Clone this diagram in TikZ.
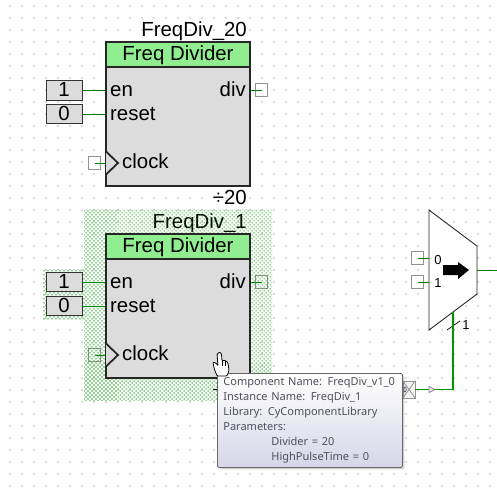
\documentclass[tikz,border=0pt]{standalone}
\usepackage{fontspec}
\setmainfont{Liberation Sans}
\newfontfamily\tipfont{Noto Sans}
\usepackage{xcolor}
\usetikzlibrary{arrows.meta,positioning,patterns.meta,shadows}
\definecolor{wiregreen}{RGB}{0,128,0}
\definecolor{headgreen}{RGB}{144,238,144}
\definecolor{bodygray}{RGB}{220,220,220}
\definecolor{tiptext}{RGB}{80,80,92}

\begin{document}
\begin{tikzpicture}[x=1pt,y=-1pt,
  block/.style={draw=black!85, line width=1.8pt, fill=bodygray, minimum width=144pt, minimum height=144pt, inner sep=0pt},
  header/.style={draw=black!85, line width=1.8pt, fill=headgreen, minimum width=144pt, minimum height=24.5pt, inner sep=0pt, text height=15pt, text depth=3pt, font=\fontsize{20.4}{24}\selectfont},
  const/.style={draw=black!80, line width=0.9pt, fill=bodygray, minimum width=36pt, minimum height=19.5pt, inner sep=0pt, text height=15pt, text depth=3pt, font=\fontsize{20.4}{24}\selectfont},
  pinbox/.style={draw=gray!85, line width=0.8pt, fill=white, minimum size=12.5pt, inner sep=0pt},
  port/.style={inner sep=0pt, text height=15pt, text depth=3pt, font=\fontsize{20.4}{24}\selectfont},
  title/.style={port, anchor=east},
  small/.style={inner sep=0pt, font=\fontsize{13}{15}\selectfont},
  wire/.style={draw=wiregreen, line width=0.9pt},
  selected/.style={pattern={Dots[angle=45,distance=2.83pt,radius=0.8pt]}, pattern color=green!60!black},
  tooltip/.style={draw=gray!80!black, line width=0.8pt, rounded corners=1.5pt, top color=white, bottom color=blue!30!gray!25,
    drop shadow={shadow xshift=2pt, shadow yshift=-2pt, opacity=0.35},
    minimum height=94pt, inner xsep=6pt, inner ysep=0pt, align=left, text=tiptext,
    font=\tipfont\fontsize{11}{15}\selectfont}
]
  \useasboundingbox (0,0) rectangle (497,491);

  % grid
  \foreach \i in {0,...,41} {
    \foreach \j in {0,...,40} {
      \fill[black!14] (-2+12*\i-0.8,6+12*\j+0.8) rectangle +(1.6,-1.6);
    }
  }

  % selected part, under the marking
  \node[title] (name1) at (247,222) {FreqDiv\_1};
  \node[pinbox] (clkpin1) at (94.5,355) {};
  \node[pinbox] (divpin1) at (261.5,282) {};
  \fill[selected] (84,209) rectangle (272,400);
  \fill[selected] (43,269) rectangle (84,319);

  % FreqDiv_20
  \node[title] (name20) at (247,30.5) {FreqDiv\_20};
  \node[block] (block20) at (178,114) {};
  \node[header] (head20) at (178,54.5) {Freq Divider};
  \node[const] (en20) at (64,90.5) {1};
  \node[const] (rst20) at (64,114) {0};
  \node[pinbox] (clkpin20) at (94.5,163) {};
  \node[pinbox] (divpin20) at (261.5,90) {};
  \node[port, anchor=west] (enlbl20) at (110,90) {en};
  \node[port, anchor=west] (rstlbl20) at (110,114) {reset};
  \node[port, anchor=west] (clklbl20) at (122,162) {clock};
  \node[port, anchor=east] (divlbl20) at (246,90) {div};
  \node[title] (val20) at (247,198) {÷20};
  \draw[wire] (en20.east) -- (block20.west |- en20.east);
  \draw[wire] (rst20.east) -- (block20.west |- rst20.east);
  \draw[wire] (clkpin20.center) -- (block20.west |- clkpin20.center);
  \draw[wire] (block20.east |- divpin20.center) -- (divpin20.center);
  \draw[black!85, line width=1.8pt, fill=bodygray] (106,151.5) -- (118,163) -- (106,174.5);

  % FreqDiv_1
  \draw[black, line width=0.9pt] (213,389) -- (217,389);
  \node[block] (block1) at (178,306) {};
  \node[header] (head1) at (178,246.5) {Freq Divider};
  \node[const] (en1) at (64,282) {1};
  \node[const] (rst1) at (64,306) {0};
  \node[port, anchor=west] (enlbl1) at (110,282) {en};
  \node[port, anchor=west] (rstlbl1) at (110,306) {reset};
  \node[port, anchor=west] (clklbl1) at (122,354) {clock};
  \node[port, anchor=east] (divlbl1) at (246,282) {div};
  \draw[wire, green!55!black] (en1.east) -- (block1.west |- en1.east);
  \draw[wire, green!55!black] (rst1.east) -- (block1.west |- rst1.east);
  \draw[wire, green!55!black] (clkpin1.center) -- (block1.west |- clkpin1.center);
  \draw[wire, green!55!black] (block1.east |- divpin1.center) -- (divpin1.center);
  \draw[black!85, line width=1.8pt, fill=bodygray] (106,343.5) -- (118,355) -- (106,366.5);

  % mux
  \draw[black!85, line width=0.9pt, fill=white] (429,210) -- (477,246) -- (477,294) -- (429,330) -- cycle;
  \node[pinbox] (mux0) at (417.5,258) {};
  \node[pinbox] (mux1) at (417.5,282) {};
  \node[small] (lbl0) at (438,260) {0};
  \node[small] (lbl1) at (438,283) {1};
  \coordinate (muxin0) at (429,258);
  \coordinate (muxin1) at (429,282);
  \coordinate (muxout) at (477,270);
  \coordinate (muxsel) at (453,312);
  \coordinate (outend) at (497,270);
  \coordinate (selbend) at (453,389.5);
  \draw[wire] (mux0.center) -- (muxin0);
  \draw[wire] (mux1.center) -- (muxin1);
  \draw[wire] (muxout) -- (outend);
  \fill[black] (443,265) -- (458,265) -- (458,262) -- (469,270) -- (458,279) -- (458,275) -- (443,275) -- cycle;
  \node[small] (sellbl) at (466,325) {1};
  \draw[black, line width=0.7pt] (447,330) -- (460,321);

  % select wire
  \node[draw=gray!85, line width=0.8pt, fill=gray!10, minimum width=12pt, minimum height=17pt, inner sep=0pt] (conn) at (409,389.5) {};
  \draw[gray!85, line width=0.8pt] (conn.north west) -- (conn.south east) (conn.south west) -- (conn.north east);
  \draw[black!70, line width=0.7pt] (405,389.5) ellipse (1.2 and 2.5);
  \draw[wire, line width=1.1pt, green!60!black] (conn.east) -- (selbend) -- (muxsel);
  \draw[gray, line width=0.7pt, fill=white] (429,386.5) -- (435,389.5) -- (429,392.5) -- cycle;

  % tooltip
  \node[tooltip, text width=173pt, anchor=north west] (tip) at (217,373) {Component Name: FreqDiv\_v1\_0\\Instance Name: FreqDiv\_1\\Library: CyComponentLibrary\\Parameters:\\\hspace*{48pt}Divider = 20\\\hspace*{48pt}HighPulseTime = 0};

  % hand cursor
  \draw[black, line width=0.8pt, fill=white, rounded corners=1pt] (217,376) -- (214,368) -- (213,362) -- (216,363) -- (218,366) -- (217,354) -- (220,352) -- (221.5,354) -- (222,361) -- (224,360) -- (226,361) -- (228,363) -- (229,370) -- (227,376) -- cycle;
  \draw[black, line width=0.6pt] (222,361) -- (222,366) (225,361) -- (225,366);
\end{tikzpicture}
\end{document}
